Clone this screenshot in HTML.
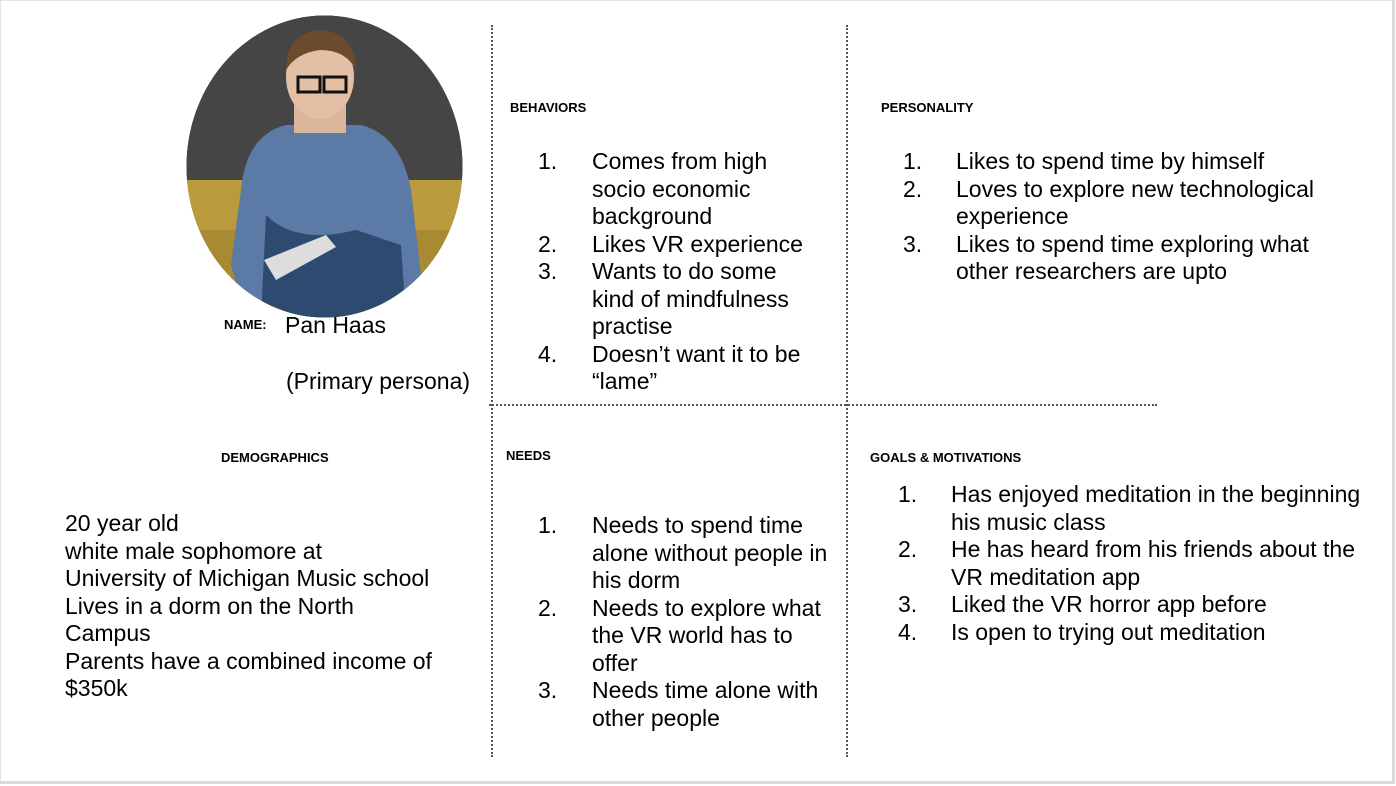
<!DOCTYPE html>
<html><head><meta charset="utf-8"><style>
html,body{margin:0;padding:0;background:#fff;}
body{width:1396px;height:786px;position:relative;overflow:hidden;font-family:"Liberation Sans",Arial,sans-serif;color:#000;}
.frame{position:absolute;left:0;top:0;width:1391px;height:780px;border:1px solid #e4e4e4;border-right:3px solid #d9d9d9;border-bottom:3px solid #d9d9d9;box-sizing:content-box;}
.t{position:absolute;font-size:23px;line-height:27.5px;white-space:nowrap;}
.h{position:absolute;font-size:13px;font-weight:bold;white-space:nowrap;line-height:14px;}
.vl{position:absolute;width:0;border-left:2px dotted #555;}
.hl{position:absolute;height:0;border-top:2px dotted #555;}
.li{position:relative;}
.li .n{position:absolute;}
</style></head><body>
<div class="frame"></div>

<svg style="position:absolute;left:186px;top:15px" width="277" height="303" viewBox="0 0 277 303">
<defs><clipPath id="c"><ellipse cx="138.5" cy="151.5" rx="138" ry="151"/></clipPath></defs>
<g clip-path="url(#c)">
<rect width="277" height="303" fill="#3a3a3a"/>
<rect x="0" y="0" width="277" height="165" fill="#454545"/>
<rect x="0" y="165" width="277" height="140" fill="#b99a3c"/>
<rect x="0" y="215" width="277" height="90" fill="#a88a33"/>
<path d="M55 175 Q60 120 100 110 L175 110 Q215 120 225 175 L235 260 L210 303 L60 303 L45 250 Z" fill="#5b7aa6"/>
<path d="M80 200 Q110 230 170 215 L215 230 L220 303 L75 303 Z" fill="#2f4a70"/>
<path d="M78 245 L140 220 L150 232 L90 265 Z" fill="#ddd"/>
<rect x="108" y="78" width="52" height="40" fill="#d9b59c"/>
<ellipse cx="134" cy="62" rx="34" ry="42" fill="#e3bfa6"/>
<path d="M100 55 Q100 18 134 15 Q170 18 170 55 Q160 35 134 35 Q110 38 100 55Z" fill="#6b4a2e"/>
<rect x="112" y="62" width="22" height="15" fill="none" stroke="#111" stroke-width="3"/>
<rect x="138" y="62" width="22" height="15" fill="none" stroke="#111" stroke-width="3"/>
</g></svg>

<div class="h" style="left:224px;top:318px">NAME:</div>
<div class="t" style="left:285px;top:312px">Pan Haas</div>
<div class="t" style="left:286px;top:368px">(Primary persona)</div>

<div class="vl" style="left:491px;top:25px;height:732px"></div>
<div class="vl" style="left:846px;top:25px;height:732px"></div>
<div class="hl" style="left:489px;top:404px;width:668px"></div>

<div class="h" style="left:510px;top:101px">BEHAVIORS</div>
<div class="t" style="left:592px;top:148px">
<div class="li"><span class="n" style="left:-54px">1.</span>Comes from high<br>socio economic<br>background</div>
<div class="li"><span class="n" style="left:-54px">2.</span>Likes VR experience</div>
<div class="li"><span class="n" style="left:-54px">3.</span>Wants to do some<br>kind of mindfulness<br>practise</div>
<div class="li"><span class="n" style="left:-54px">4.</span>Doesn’t want it to be<br>“lame”</div>
</div>

<div class="h" style="left:881px;top:101px">PERSONALITY</div>
<div class="t" style="left:956px;top:148px">
<div class="li"><span class="n" style="left:-53px">1.</span>Likes to spend time by himself</div>
<div class="li"><span class="n" style="left:-53px">2.</span>Loves to explore new technological<br>experience</div>
<div class="li"><span class="n" style="left:-53px">3.</span>Likes to spend time exploring what<br>other researchers are upto</div>
</div>

<div class="h" style="left:221px;top:451px">DEMOGRAPHICS</div>
<div class="t" style="left:65px;top:510px">20 year old<br>white male sophomore at<br>University of Michigan Music school<br>Lives in a dorm on the North<br>Campus<br>Parents have a combined income of<br>$350k</div>

<div class="h" style="left:506px;top:449px">NEEDS</div>
<div class="t" style="left:592px;top:512px">
<div class="li"><span class="n" style="left:-54px">1.</span>Needs to spend time<br>alone without people in<br>his dorm</div>
<div class="li"><span class="n" style="left:-54px">2.</span>Needs to explore what<br>the VR world has to<br>offer</div>
<div class="li"><span class="n" style="left:-54px">3.</span>Needs time alone with<br>other people</div>
</div>

<div class="h" style="left:870px;top:451px">GOALS &amp; MOTIVATIONS</div>
<div class="t" style="left:951px;top:481px">
<div class="li"><span class="n" style="left:-53px">1.</span>Has enjoyed meditation in the beginning<br>his music class</div>
<div class="li"><span class="n" style="left:-53px">2.</span>He has heard from his friends about the<br>VR meditation app</div>
<div class="li"><span class="n" style="left:-53px">3.</span>Liked the VR horror app before</div>
<div class="li"><span class="n" style="left:-53px">4.</span>Is open to trying out meditation</div>
</div>
</body></html>
